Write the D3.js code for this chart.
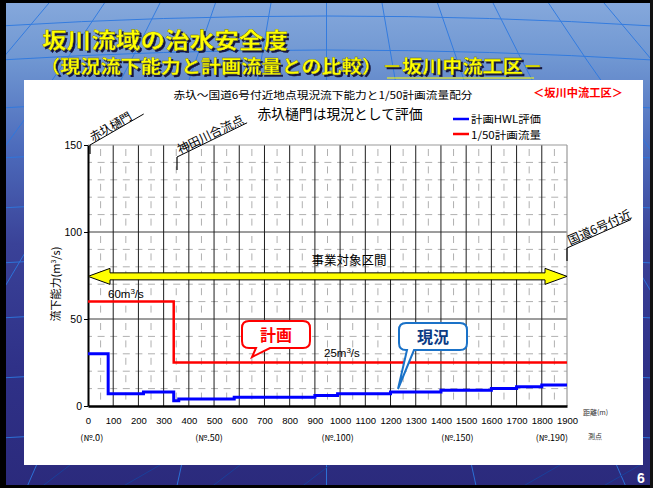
<!DOCTYPE html>
<html><head><meta charset="utf-8">
<script src="https://cdn.jsdelivr.net/npm/d3@7/dist/d3.min.js"></script>
<style>html,body{margin:0;padding:0;background:#000;}svg{display:block;}</style>
</head><body>
<script>
// ---- data ----
const xTickValues = [0,100,200,300,400,500,600,700,800,900,1000,1100,1200,1300,1400,1500,1600,1700,1800,1900];
const yTickValues = [0,50,100,150];
const hwlDistance = [0,80,220,340,360,580,900,990,1200,1400,1600,1700,1800,1900];
const hwlCapacity = [30,7,8,3,4,5,6,7,8,9,10,11,12,12];
const planDistance = [0,340,1900];
const planFlow = [60,25,25];
const stationLabels = ["(№.0)","(№.50)","(№.100)","(№.150)","(№.190)"];
const stationDistance = [15,480,990,1465,1840];
const projectRangeLevel = 74.5;

const W = 653, H = 488;
const JP = "'Noto Sans CJK JP','Noto Sans',sans-serif";
const LAT = "'Liberation Sans','Noto Sans CJK JP',sans-serif";

const svg = d3.select("body").append("svg").attr("width",W).attr("height",H);
const defs = svg.append("defs");
const bg = defs.append("linearGradient").attr("id","bg").attr("x1",0).attr("y1",0).attr("x2",0).attr("y2",1);
[[0,"#86a9dc"],[0.12,"#7097d2"],[0.3,"#4d6cbc"],[0.5,"#3a4298"],[0.75,"#2f3188"],[1,"#2b2a7c"]].forEach(s=>bg.append("stop").attr("offset",s[0]).attr("stop-color",s[1]));
const sh = defs.append("filter").attr("id","shadow").attr("x","-5%").attr("y","-20%").attr("width","110%").attr("height","150%");
sh.append("feDropShadow").attr("dx",2).attr("dy",2).attr("stdDeviation",0.4).attr("flood-color","#15163f").attr("flood-opacity",1);

svg.append("rect").attr("width",W).attr("height",H).attr("fill","url(#bg)");

// globe lines (decoration)
const deco = svg.append("g").attr("fill","none").attr("stroke","#2c78e0").attr("stroke-width",1).attr("opacity",0.9);
[18,52,100,150,200,255,310,370,430].forEach((yy,i)=>{
  deco.append("path").attr("d",`M0,${yy+8} Q${W/2},${yy-12} ${W},${yy+8}`);
});
for(let i=-6;i<=6;i++){
  const top = W/2 + i*55;
  const bot = W/2 + i*150;
  deco.append("path").attr("d",`M${top},0 Q${W/2+i*95},${H*0.5} ${bot},${H}`);
}
const deco2 = svg.append("g").attr("fill","none").attr("stroke","#1a3f9a").attr("stroke-width",1);
[[40,488,70,465],[120,488,160,465],[210,488,240,465],[300,488,330,465],[520,488,560,465],[600,488,640,465]].forEach(d=>deco2.append("line").attr("x1",d[0]).attr("y1",d[1]).attr("x2",d[2]).attr("y2",d[3]));

// frame
svg.append("rect").attr("x",0).attr("y",0).attr("width",6).attr("height",H).attr("fill","#000");
svg.append("rect").attr("x",0).attr("y",0).attr("width",W).attr("height",3).attr("fill","#000");
svg.append("rect").attr("x",0).attr("y",H-3).attr("width",W).attr("height",3).attr("fill","#000");
svg.append("rect").attr("x",W-3).attr("y",0).attr("width",3).attr("height",H).attr("fill","#111");

// titles
function shadowText(x,y,txt,size,len){
  svg.append("text").attr("x",x).attr("y",y).attr("font-family",JP).attr("font-weight","bold").attr("font-size",size)
    .attr("fill","#ffff00").attr("stroke","#6b6b00").attr("stroke-width",0.3).attr("filter","url(#shadow)")
    .attr("textLength",len).attr("lengthAdjust","spacingAndGlyphs").text(txt);
}
shadowText(42,48,"坂川流域の治水安全度",22,246);
shadowText(40,73,"（現況流下能力と計画流量との比較）－坂川中流工区－",18,503);
svg.append("line").attr("x1",387).attr("x2",534).attr("y1",78).attr("y2",78).attr("stroke","#ffff00").attr("stroke-width",1.2);

// white panel
svg.append("rect").attr("x",24).attr("y",80).attr("width",619).attr("height",385).attr("fill","#fff");

// page number
svg.append("text").attr("x",641).attr("y",483).attr("text-anchor","middle").attr("font-family",LAT).attr("font-weight","bold").attr("font-size",14).attr("fill","#fff").text("6");

// ---- chart ----
const x = d3.scaleLinear().domain([0,1900]).range([88,567]);
const y = d3.scaleLinear().domain([0,150]).range([406,145]);

const grid = svg.append("g");
d3.range(10,150,10).filter(v=>v%50!==0).forEach(v=>{
  grid.append("line").attr("x1",x(0)).attr("x2",x(1900)).attr("y1",y(v)).attr("y2",y(v))
    .attr("stroke","#b0b0b0").attr("stroke-width",1).attr("stroke-dasharray","7,5.6").attr("stroke-dashoffset",3);
});
d3.range(50,1900,100).forEach(v=>{
  grid.append("line").attr("x1",x(v)).attr("x2",x(v)).attr("y1",y(150)).attr("y2",y(0))
    .attr("stroke","#b0b0b0").attr("stroke-width",1).attr("stroke-dasharray","7,10.4").attr("stroke-dashoffset",-4);
});
[50,100].forEach(v=>{
  grid.append("line").attr("x1",x(0)).attr("x2",x(1900)).attr("y1",y(v)).attr("y2",y(v)).attr("stroke","#3a3a3a").attr("stroke-width",1);
});
xTickValues.filter(v=>v>0&&v<1900).forEach(v=>{
  grid.append("line").attr("x1",x(v)).attr("x2",x(v)).attr("y1",y(150)).attr("y2",y(0)).attr("stroke","#1e1e1e").attr("stroke-width",1);
});
grid.append("line").attr("x1",x(0)).attr("x2",x(1900)).attr("y1",y(150)).attr("y2",y(150)).attr("stroke","#999").attr("stroke-width",1.2);
grid.append("line").attr("x1",x(1900)).attr("x2",x(1900)).attr("y1",y(150)).attr("y2",y(0)).attr("stroke","#999").attr("stroke-width",1.2);

// axes
const yAxis = svg.append("g").attr("transform",`translate(${x(0)},0)`)
  .call(d3.axisLeft(y).tickValues(yTickValues).tickSize(4).tickSizeOuter(0));
yAxis.select(".domain").attr("stroke","#000").attr("stroke-width",2);
yAxis.selectAll("text").attr("font-family",LAT).attr("font-size",10.5).attr("fill","#000").attr("x",-6);
const xAxis = svg.append("g").attr("transform",`translate(0,${y(0)})`)
  .call(d3.axisBottom(x).tickValues(xTickValues).tickSize(0).tickSizeOuter(0).tickFormat(d3.format("d")));
xAxis.select(".domain").attr("stroke","#000").attr("stroke-width",2.5);
xAxis.selectAll("text").attr("font-family",LAT).attr("font-size",9.5).attr("fill","#000").attr("dy","0.71em").attr("y",11);

// station labels
stationLabels.forEach((s,i)=>{
  svg.append("text").attr("x",x(stationDistance[i])).attr("y",441).attr("text-anchor","middle")
    .attr("font-family",JP).attr("font-size",8.5).attr("fill","#000")
    .attr("textLength",s.length*4.6).attr("lengthAdjust","spacingAndGlyphs").text(s);
});
svg.append("text").attr("x",583).attr("y",415).attr("font-family",JP).attr("font-size",7).attr("fill","#333").text("距離(m)");
svg.append("text").attr("x",588).attr("y",439).attr("font-family",JP).attr("font-size",7).attr("fill","#333").text("測点");

// y label
svg.append("text").attr("transform","translate(60,284) rotate(-90)").attr("text-anchor","middle")
  .attr("font-family",JP).attr("font-size",11).attr("fill","#000")
  .html('流下能力(m<tspan dy="-4" font-size="7">3</tspan><tspan dy="4">/s)</tspan>');

// project range arrow
const ay = y(projectRangeLevel), bh = 3.5, hh = 8, hl = 22;
const x0 = x(0), x1 = x(1900);
svg.append("path").attr("d",`M${x0},${ay} L${x0+hl},${ay-hh} L${x0+hl},${ay-bh} L${x1-hl},${ay-bh} L${x1-hl},${ay-hh} L${x1},${ay} L${x1-hl},${ay+hh} L${x1-hl},${ay+bh} L${x0+hl},${ay+bh} L${x0+hl},${ay+hh} Z`)
  .attr("fill","#ffff00").attr("stroke","#000").attr("stroke-width",1);
svg.append("text").attr("x",349).attr("y",265).attr("text-anchor","middle").attr("font-family",JP).attr("font-size",12.5).attr("fill","#000").text("事業対象区間");

// lines
const line = d3.line().x(d=>x(d[0])).y(d=>y(d[1])).curve(d3.curveStepAfter);
svg.append("path").datum(planDistance.map((d,i)=>[d,planFlow[i]])).attr("d",line)
  .attr("fill","none").attr("stroke","#ff0000").attr("stroke-width",2.5);
svg.append("path").datum(hwlDistance.map((d,i)=>[d,hwlCapacity[i]])).attr("d",line)
  .attr("fill","none").attr("stroke","#0000ff").attr("stroke-width",3);

// flow labels
svg.append("text").attr("x",108).attr("y",298).attr("font-family",LAT).attr("font-size",11.5).attr("fill","#000")
  .html('60m<tspan dy="-4" font-size="8">3</tspan><tspan dy="4">/s</tspan>');
svg.append("text").attr("x",324).attr("y",357).attr("font-family",LAT).attr("font-size",11.5).attr("fill","#000")
  .html('25m<tspan dy="-4" font-size="8">3</tspan><tspan dy="4">/s</tspan>');

// callouts
function callout(x1,y1,x2,y2,b1,b2,tx,ty,stroke,textFill,label){
  const r=7;
  const d = `M${x1+r},${y1} L${x2-r},${y1} Q${x2},${y1} ${x2},${y1+r} L${x2},${y2-r} Q${x2},${y2} ${x2-r},${y2} L${b2},${y2} L${tx},${ty} L${b1},${y2} L${x1+r},${y2} Q${x1},${y2} ${x1},${y2-r} L${x1},${y1+r} Q${x1},${y1} ${x1+r},${y1} Z`;
  svg.append("path").attr("d",d).attr("fill","#fff").attr("stroke",stroke).attr("stroke-width",2);
  svg.append("text").attr("x",(x1+x2)/2).attr("y",(y1+y2)/2+6).attr("text-anchor","middle")
    .attr("font-family",JP).attr("font-weight","bold").attr("font-size",16).attr("fill",textFill).text(label);
}
callout(242,321,310,348,256,270,252,357,"#ff0000","#ff0000","計画");
callout(399,323,467,350,407,414,398,389,"#1a72c8","#0b3b84","現況");

// header texts
svg.append("text").attr("x",323).attr("y",99).attr("text-anchor","middle").attr("font-family",JP).attr("font-size",10.5).attr("fill","#000")
  .attr("textLength",299).attr("lengthAdjust","spacingAndGlyphs").text("赤圦～国道6号付近地点現況流下能力と1/50計画流量配分");
svg.append("text").attr("x",578).attr("y",97).attr("text-anchor","middle").attr("font-family",JP).attr("font-weight","bold").attr("font-size",11).attr("fill","#ff0000")
  .attr("textLength",90).attr("lengthAdjust","spacingAndGlyphs").text("＜坂川中流工区＞");
svg.append("text").attr("x",340).attr("y",119).attr("text-anchor","middle").attr("font-family",JP).attr("font-size",14).attr("fill","#000")
  .attr("textLength",165).attr("lengthAdjust","spacingAndGlyphs").text("赤圦樋門は現況として評価");

// legend
svg.append("line").attr("x1",453).attr("x2",469).attr("y1",119).attr("y2",119).attr("stroke","#0000ff").attr("stroke-width",2.5);
svg.append("text").attr("x",471).attr("y",123).attr("font-family",JP).attr("font-size",10.5).attr("fill","#000").attr("textLength",70).attr("lengthAdjust","spacingAndGlyphs").text("計画HWL評価");
svg.append("line").attr("x1",453).attr("x2",469).attr("y1",134).attr("y2",134).attr("stroke","#ff0000").attr("stroke-width",2.5);
svg.append("text").attr("x",471).attr("y",139).attr("font-family",JP).attr("font-size",10.5).attr("fill","#000").attr("textLength",70).attr("lengthAdjust","spacingAndGlyphs").text("1/50計画流量");

// rotated location annotations
function locLabel(px,py,tickLen,angle,len,label,tlen){
  const a = angle*Math.PI/180;
  svg.append("line").attr("x1",px).attr("x2",px).attr("y1",py).attr("y2",py+tickLen).attr("stroke","#000").attr("stroke-width",1.2);
  svg.append("line").attr("x1",px).attr("y1",py).attr("x2",px+len*Math.cos(a)).attr("y2",py+len*Math.sin(a)).attr("stroke","#000").attr("stroke-width",1);
  svg.append("text").attr("transform",`translate(${px+3},${py-3}) rotate(${angle})`)
    .attr("font-family",JP).attr("font-size",12).attr("fill","#000").attr("textLength",tlen).attr("lengthAdjust","spacingAndGlyphs").text(label);
}
locLabel(x(0)+2,145,9,-30,62,"赤圦樋門",46);
locLabel(177,157,13,-26,78,"神田川合流点",72);
locLabel(x(1900),248,13,-24,70,"国道6号付近",68);
</script>
</body></html>
